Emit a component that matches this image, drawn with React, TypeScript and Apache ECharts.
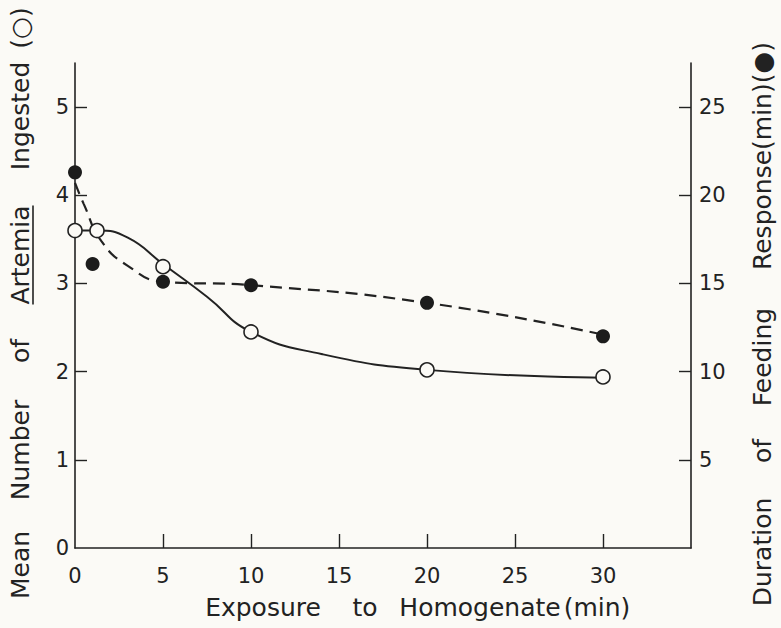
import React, { useEffect, useRef } from "react";
import * as echarts from "echarts";

// ---- data ----
const xTickLabels = [0, 5, 10, 15, 20, 25, 30];
const leftTickLabels = [0, 1, 2, 3, 4, 5];
const rightTickLabels = [5, 10, 15, 20, 25];

// open circles: mean number of Artemia ingested (left axis)
const openX = [0, 1.25, 5, 10, 20, 30];
const openY = [3.6, 3.6, 3.19, 2.45, 2.02, 1.94];

// filled circles: duration of feeding response, min (right axis)
const filledX = [0, 1, 5, 10, 20, 30];
const filledY = [21.3, 16.1, 15.1, 14.9, 13.9, 12.0];

// hand-drawn fitted curves
const solidCurveX = [0, 1.25, 3, 5, 7.5, 10, 14, 20, 30];
const solidCurveY = [3.6, 3.6, 3.52, 3.22, 2.85, 2.45, 2.2, 2.02, 1.93];

const dashedCurveX = [0, 0.5, 1.5, 3, 5, 10, 20, 30];
const dashedCurveY = [20.7, 19.5, 17.4, 16.0, 15.1, 14.9, 13.9, 12.1];

const xTitleWords = ["Exposure", "to", "Homogenate", "(min)"];
const leftTitleWords = ["Mean", "Number", "of", "Artemia", "Ingested", "(○)"];
const rightTitleWords = ["Duration", "of", "Feeding", "Response(min)(●)"];

// ---- layout / style ----
const W = 781;
const H = 628;
const FONT = "'DejaVu Sans', 'Noto Sans', sans-serif";
const INK = "#222222";
const BG = "#fbfaf6";
const TICK_FS = 21;
const TITLE_FS = 25;

const xTitleCenters = [263, 365, 480, 597];
const leftTitleCenters = [565, 450, 351, 255, 116, 28];
const rightTitleCenters = [552, 451, 357, 156];

function measure(text: string, size: number): number {
  const c = document.createElement("canvas");
  const ctx = c.getContext("2d");
  if (!ctx) return text.length * size * 0.6;
  ctx.font = `${size}px 'DejaVu Sans'`;
  return ctx.measureText(text).width;
}

function pairs(xs: number[], ys: number[]) {
  return xs.map((x, i) => [x, ys[i]]);
}

export default function App() {
  const ref = useRef<HTMLDivElement>(null);

  useEffect(() => {
    if (!ref.current) return;
    const chart = echarts.init(ref.current, undefined, { renderer: "svg" });

    const textStyleBase = {
      fill: INK,
      fontFamily: FONT,
      fontSize: TITLE_FS,
      align: "center",
      verticalAlign: "middle",
    };

    const graphics: any[] = [];
    xTitleWords.forEach((w, i) => {
      graphics.push({
        type: "text",
        x: xTitleCenters[i],
        y: 607,
        style: { ...textStyleBase, text: w },
      });
    });
    leftTitleWords.forEach((w, i) => {
      graphics.push({
        type: "text",
        x: 20,
        y: leftTitleCenters[i],
        rotation: Math.PI / 2,
        style: { ...textStyleBase, text: w },
      });
    });
    const artIdx = leftTitleWords.indexOf("Artemia");
    const artW = measure("Artemia", TITLE_FS);
    graphics.push({
      type: "line",
      shape: {
        x1: 33,
        y1: leftTitleCenters[artIdx] - artW / 2,
        x2: 33,
        y2: leftTitleCenters[artIdx] + artW / 2,
      },
      style: { stroke: INK, lineWidth: 1.6 },
    });
    rightTitleWords.forEach((w, i) => {
      graphics.push({
        type: "text",
        x: 762,
        y: rightTitleCenters[i],
        rotation: Math.PI / 2,
        style: { ...textStyleBase, text: w },
      });
    });

    const axisLine = { show: true, lineStyle: { color: INK, width: 1.6 } };

    chart.setOption({
      animation: false,
      backgroundColor: BG,
      grid: { left: 75, right: 90, top: 63, bottom: 80, containLabel: false },
      xAxis: {
        type: "value",
        min: 0,
        max: 35,
        interval: 5,
        axisLine,
        axisTick: {
          show: true,
          inside: true,
          length: 14,
          customValues: xTickLabels.filter((v) => v > 0),
          lineStyle: { color: INK, width: 1.4 },
        },
        axisLabel: {
          customValues: xTickLabels,
          margin: 17,
          color: INK,
          fontFamily: FONT,
          fontSize: TICK_FS,
        },
        splitLine: { show: false },
      },
      yAxis: [
        {
          type: "value",
          position: "left",
          min: 0,
          max: 5.5,
          interval: 1,
          axisLine,
          axisTick: {
            show: true,
            inside: true,
            length: 12,
            customValues: leftTickLabels.filter((v) => v > 0),
            lineStyle: { color: INK, width: 1.4 },
          },
          axisLabel: {
            customValues: leftTickLabels,
            margin: 6,
            color: INK,
            fontFamily: FONT,
            fontSize: TICK_FS,
          },
          splitLine: { show: false },
        },
        {
          type: "value",
          position: "right",
          min: 0,
          max: 27.5,
          interval: 5,
          axisLine,
          axisTick: {
            show: true,
            inside: true,
            length: 12,
            customValues: rightTickLabels,
            lineStyle: { color: INK, width: 1.4 },
          },
          axisLabel: {
            customValues: rightTickLabels,
            margin: 8,
            color: INK,
            fontFamily: FONT,
            fontSize: TICK_FS,
          },
          splitLine: { show: false },
        },
      ],
      graphic: graphics,
      series: [
        {
          type: "line",
          yAxisIndex: 0,
          data: pairs(solidCurveX, solidCurveY),
          smooth: 0.5,
          showSymbol: false,
          symbol: "none",
          clip: false,
          lineStyle: { color: INK, width: 2 },
          z: 2,
        },
        {
          type: "line",
          yAxisIndex: 1,
          data: pairs(dashedCurveX, dashedCurveY),
          smooth: 0.5,
          showSymbol: false,
          symbol: "none",
          clip: false,
          lineStyle: { color: INK, width: 2.2, type: [12, 7] },
          z: 2,
        },
        {
          type: "scatter",
          yAxisIndex: 0,
          data: pairs(openX, openY),
          symbol: "circle",
          symbolSize: 14,
          clip: false,
          itemStyle: { color: BG, borderColor: INK, borderWidth: 1.6, opacity: 1 },
          z: 4,
        },
        {
          type: "scatter",
          yAxisIndex: 1,
          data: pairs(filledX, filledY),
          symbol: "circle",
          symbolSize: 14,
          clip: false,
          itemStyle: { color: "#1c1c1c", opacity: 1 },
          z: 4,
        },
      ],
    });

    return () => chart.dispose();
  }, []);

  return (
    <div
      ref={ref}
      style={{ position: "absolute", left: 0, top: 0, width: W, height: H, background: BG }}
    />
  );
}
